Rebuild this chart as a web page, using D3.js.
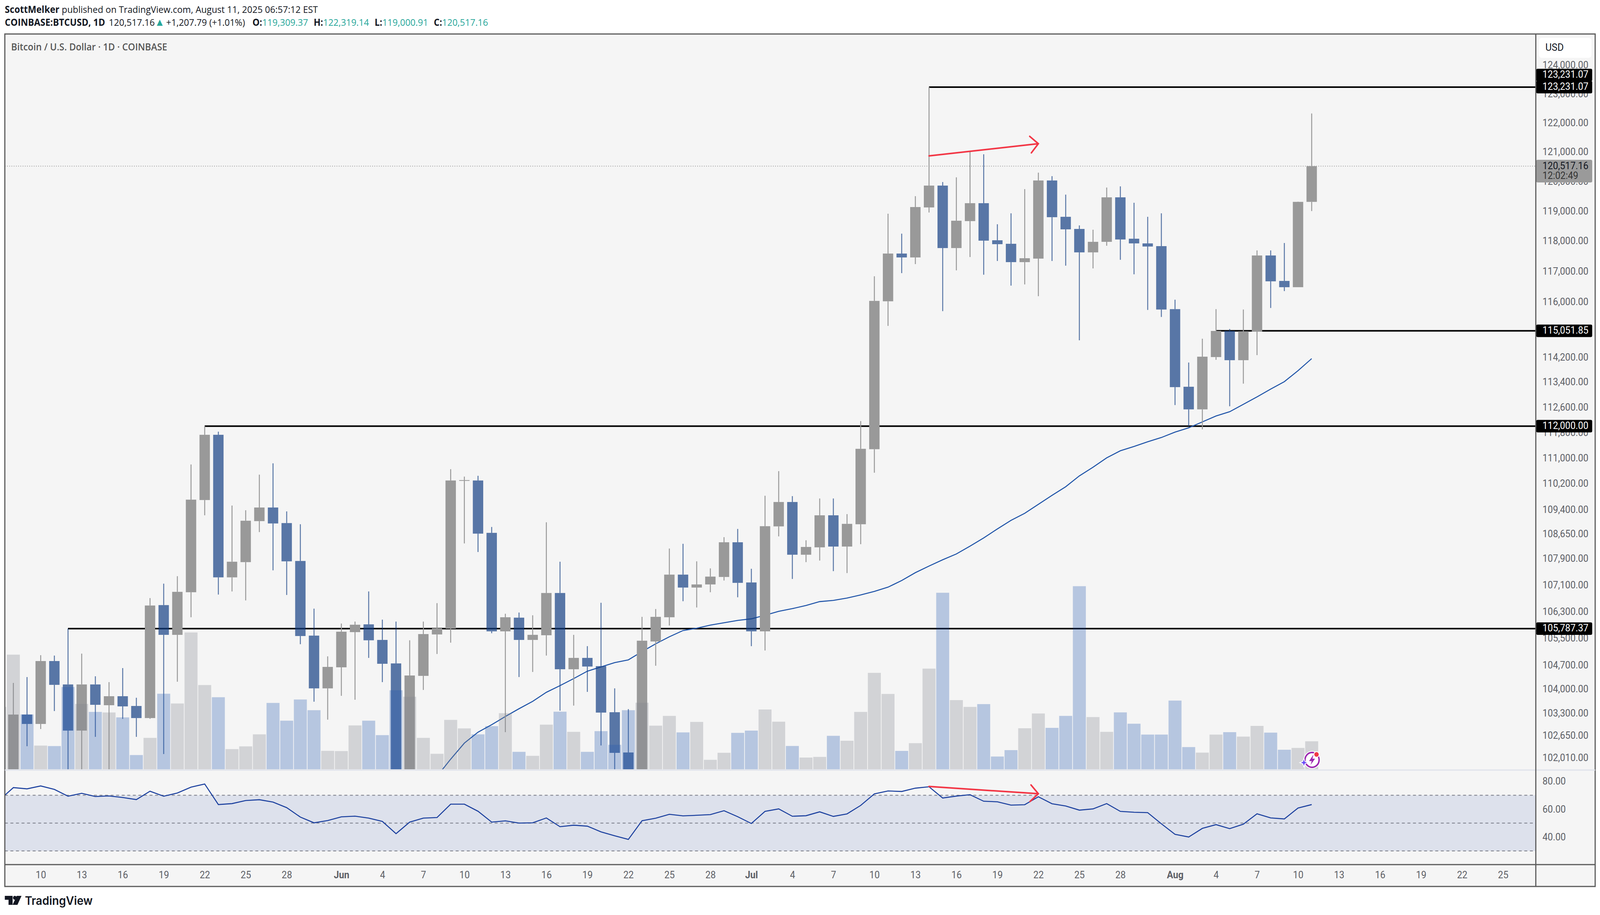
<!DOCTYPE html>
<html>
<head>
<meta charset="utf-8">
<title>BTCUSD 1D</title>
<script src="https://cdn.jsdelivr.net/npm/d3@7"></script>
<style>
    html, body { margin: 0; padding: 0; background: #fff; width: 100%; height: 100%; overflow: hidden; }
    svg { display: block; width: 100vw; height: 100vh; }
    text { font-family: Roboto, sans-serif; }
    .head { font-family: "Open Sans", sans-serif; font-size: 24.3px; fill: #131722; }
    .tick text { font-family: Roboto, sans-serif; font-size: 25px; fill: #5d5f66; }
</style>
</head>
<body>
<svg id="chart" viewBox="0 0 4312 2342" preserveAspectRatio="none"></svg>
<script>
// daily bars from May 7 to Aug 11 2025 (first one is cut off by the left edge)
const firstDay = new Date(Date.UTC(2025, 4, 7));

const opens = [96800, 99780, 103256, 102983, 104825, 104136, 102790, 104136, 103528, 103791, 103506, 103154, 106491, 105602, 106878, 109692, 111728, 107327, 107789, 109042, 109461, 108982, 107824, 105579, 104021, 104640, 105683, 105915, 105451, 104755, 101500, 104388, 105614, 105787, 110298, 110298, 108682, 105706, 106115, 105451, 105590, 106855, 104583, 104918, 104675, 103324, 102158, 100960, 105405, 106127, 107410, 107019, 107113, 107339, 108394, 107173, 105706, 108880, 109631, 108014, 108239, 109221, 108263, 108946, 111275, 116012, 117584, 117455, 119122, 119858, 117766, 118664, 119265, 118025, 117908, 117300, 117416, 120031, 118808, 118402, 117623, 117973, 119462, 118077, 117921, 117830, 115756, 113251, 112531, 114203, 115047, 114102, 115022, 117520, 116680, 116474, 119309.37];
const highs = [97700, 104181, 104354, 104999, 104987, 105787, 105045, 104376, 104204, 104617, 103746, 106702, 107137, 107362, 110797, 112000, 111826, 109522, 109377, 110480, 110833, 109341, 108946, 106385, 104964, 105939, 105998, 106902, 106056, 105998, 105440, 105998, 106550, 110650, 110419, 110444, 108862, 106232, 106268, 106186, 109006, 107801, 105602, 105266, 106561, 104021, 103415, 106139, 106373, 108203, 108347, 107813, 107599, 108550, 108802, 107587, 109825, 110589, 109813, 108455, 109740, 109740, 109257, 112160, 116833, 118912, 118245, 119501, 123231.07, 119978, 120137, 121000, 120920, 118559, 118925, 119739, 120296, 120177, 119553, 118520, 118376, 119792, 119832, 119279, 118808, 118925, 116064, 114027, 114795, 115756, 115110, 115743, 117688, 117688, 117934, 119318, 122319.14];
const lows = [95900, 99000, 102338, 102836, 103358, 100700, 101400, 102609, 101400, 103131, 102609, 103131, 102113, 104216, 106127, 109221, 106808, 106902, 106632, 108706, 107540, 106796, 105324, 103631, 103108, 103803, 103688, 104918, 104204, 100400, 101000, 103975, 105034, 105370, 108359, 108097, 105650, 102745, 104354, 104503, 104987, 103369, 103517, 103918, 102360, 100800, 98200, 99600, 104686, 105880, 106608, 106420, 106878, 107232, 106726, 105266, 105138, 108574, 107279, 107789, 107836, 107516, 107457, 108335, 110540, 115211, 116937, 117235, 118952, 115691, 117028, 117468, 116885, 117338, 116526, 116565, 116179, 117338, 117183, 114744, 117092, 117843, 117377, 116898, 115730, 115501, 112668, 112000, 111900, 114115, 112630, 113351, 114265, 115794, 116346, 116474, 119000.91];
const closes = [97030, 103256, 102983, 104825, 104124, 102790, 104136, 103540, 103791, 103494, 103154, 106479, 105602, 106890, 109704, 111728, 107327, 107801, 109054, 109461, 108970, 107813, 105567, 104021, 104652, 105695, 105904, 105440, 104744, 101000, 104399, 105625, 105799, 110298, 110310, 108658, 105706, 106127, 105451, 105602, 106855, 104583, 104918, 104663, 103313, 102147, 100960, 105428, 106139, 107410, 107019, 107113, 107350, 108394, 107161, 105706, 108886, 109631, 108014, 108251, 109221, 108263, 108958, 111287, 116025, 117584, 117455, 119135, 119858, 117766, 118677, 119265, 118012, 117895, 117300, 117429, 120031, 118795, 118389, 117623, 117973, 119462, 118051, 117921, 117817, 115743, 113239, 112531, 114215, 115047, 114102, 115034, 117520, 116667, 116474, 119309.37, 120517.16];
const volumes = [7980, 14670, 7020, 3030, 2970, 10530, 8360, 7340, 7270, 6640, 1820, 4020, 9670, 8420, 17510, 10780, 9220, 2580, 2930, 4470, 8490, 6220, 8930, 7560, 2360, 2330, 5610, 6220, 4370, 10110, 9280, 4020, 1980, 6320, 5230, 4470, 5520, 7180, 2230, 1720, 5710, 7370, 4790, 2230, 4880, 3130, 7560, 8520, 5580, 6830, 4720, 6060, 1210, 2110, 4660, 4950, 7650, 6090, 2980, 1500, 1580, 4280, 3650, 7340, 12340, 9640, 2350, 3340, 12880, 22590, 8850, 7980, 8340, 1630, 2450, 5250, 7140, 5300, 6830, 23430, 6680, 4790, 7280, 5830, 4440, 4440, 8790, 2840, 2130, 4440, 4750, 4180, 5550, 4690, 2500, 2730, 3580];
const rsiValues = [66.7, 75.5, 74.6, 76.7, 74.2, 69.3, 71.4, 69.1, 69.5, 68.4, 66.9, 72.9, 69.3, 71.6, 75.8, 78.1, 63.3, 64.0, 66.2, 66.8, 65.1, 61.1, 54.3, 50.2, 51.8, 54.5, 55.0, 53.6, 51.2, 42.4, 50.7, 53.6, 54.0, 63.6, 63.6, 58.5, 50.7, 51.6, 50.0, 50.2, 53.7, 47.4, 48.5, 47.8, 43.7, 40.9, 38.3, 51.7, 53.5, 56.3, 55.2, 55.6, 56.1, 58.9, 54.6, 49.7, 58.4, 60.2, 54.9, 55.3, 58.1, 54.8, 56.6, 62.7, 71.0, 73.1, 72.7, 75.1, 76.1, 68.0, 69.4, 70.4, 65.7, 65.3, 62.9, 63.2, 68.9, 63.9, 62.3, 59.3, 60.2, 64.0, 58.4, 57.8, 57.5, 49.5, 41.9, 40.0, 46.2, 48.9, 46.0, 49.2, 56.7, 53.7, 53.0, 60.8, 63.3];
// moving average, the first 32 days are not on the chart
const maValues = [101474, 101967, 102428, 102745, 102961, 103199, 103426, 103642, 103906, 104101, 104308, 104526, 104652, 104778, 104860, 105103, 105335, 105544, 105730, 105799, 105892, 105962, 106033, 106080, 106186, 106303, 106385, 106479, 106596, 106632, 106702, 106796, 106902, 107031, 107232, 107469, 107670, 107860, 108038, 108275, 108526, 108802, 109066, 109281, 109558, 109837, 110104, 110441, 110711, 111005, 111225, 111360, 111507, 111642, 111813, 111949, 112135, 112321, 112457, 112692, 112928, 113176, 113414, 113765, 114153];
const maOffset = 32;

const priceTicks = [124000, 123000, 122000, 121000, 120000, 119000, 118000, 117000, 116000, 114200, 113400, 112600, 111800, 111000, 110200, 109400, 108650, 107900, 107100, 106300, 105500, 104700, 104000, 103300, 102650, 102010];
const rsiTicks = [80, 60, 40];
const rsiLevels = [70, 50, 30];

const timeTicks = ['05-10', '05-13', '05-16', '05-19', '05-22', '05-25', '05-28', '06-01', '06-04', '06-07', '06-10', '06-13', '06-16', '06-19', '06-22', '06-25', '06-28', '07-01', '07-04', '07-07', '07-10', '07-13', '07-16', '07-19', '07-22', '07-25', '07-28', '08-01', '08-04', '08-07', '08-10', '08-13', '08-16', '08-19', '08-22', '08-25'];

// horizontal levels drawn on the chart: price, start day
const levelPrices = [123231.07, 115051.85, 112000, 105787.37];
const levelStarts = ['07-14', '08-04', '05-22', '05-12'];

const lastPrice = 120517.16;
const priceArrow = [['07-14', 120866], ['07-22', 121281]];
const rsiArrow = [['07-14', 76.3], ['07-22', 71.1]];

const panel = {left: 13, right: 4299, top: 87, bottom: 2269, axis: 4139, paneBottom: 1971, timeTop: 2213};

function day(mmdd) {
    return new Date(`2025-${mmdd}T00:00:00Z`);
}

const dates = opens.map(function(d, i) {
    return d3.utcDay.offset(firstDay, i);
});

const x = d3.scaleUtc()
    .domain([day('05-08'), day('08-11')])
    .range([36, 3535]);

const yPrice = d3.scaleLog()
    .domain([123231.07, 105787.37])
    .range([223, 1609]);

const yVolume = d3.scaleLinear()
    .domain([0, 23500])
    .range([1969, 1499]);

const yRsi = d3.scaleLinear()
    .domain([70, 30])
    .range([2035.5, 2178]);

const bodyWidth = 28;
const barWidth = 35;
const greyCandle = '#999999';
const blueCandle = 'rgba(21,64,132,0.7)';
const greyVolume = 'rgba(128,131,142,0.3)';
const blueVolume = 'rgba(38,88,175,0.3)';

const svg = d3.select('#chart');

svg.append('defs')
    .append('clipPath')
    .attr('id', 'pane')
    .append('rect')
    .attr('x', panel.left)
    .attr('y', panel.top)
    .attr('width', panel.axis - panel.left)
    .attr('height', 1969 - panel.top);

svg.select('defs')
    .append('clipPath')
    .attr('id', 'rsiPane')
    .append('rect')
    .attr('x', panel.left)
    .attr('y', panel.paneBottom)
    .attr('width', panel.axis - panel.left)
    .attr('height', panel.timeTop - panel.paneBottom);

// header
const line1 = svg.append('text').attr('class', 'head').attr('x', 13).attr('y', 33);
line1.append('tspan').attr('font-weight', 700).text('ScottMelker');
line1.append('tspan').text(' published on TradingView.com, August 11, 2025 06:57:12 EST');

const line2 = svg.append('text').attr('class', 'head').attr('x', 13).attr('y', 66);
line2.append('tspan').attr('font-weight', 700).text('COINBASE:BTCUSD, 1D');
line2.append('tspan').attr('dx', 10).text('120,517.16');
line2.append('tspan').attr('fill', '#26a69a').style('font-size', '27px').text('▲');
line2.append('tspan').attr('dx', 4).text('+1,207.79 (+1.01%)');
[['O:', '119,309.37', 20], ['H:', '122,319.14', 15], ['L:', '119,000.91', 15], ['C:', '120,517.16', 15]].forEach(function(part) {
    line2.append('tspan').attr('dx', part[2]).attr('font-weight', 700).text(part[0]);
    line2.append('tspan').attr('fill', '#26a69a').text(part[1]);
});

// frame
svg.append('rect')
    .attr('x', panel.left)
    .attr('y', panel.top)
    .attr('width', panel.right - panel.left)
    .attr('height', panel.bottom - panel.top)
    .attr('fill', '#f5f5f5');

svg.append('text')
    .attr('x', 30)
    .attr('y', 129)
    .attr('font-size', 24.6)
    .attr('font-weight', 600)
    .attr('fill', '#555555')
    .style('font-family', '"Open Sans", sans-serif')
    .text('Bitcoin / U.S. Dollar · 1D · COINBASE');

svg.append('rect')
    .attr('x', 4147)
    .attr('y', 97)
    .attr('width', 142)
    .attr('height', 51)
    .attr('rx', 8)
    .attr('fill', '#ffffff');

svg.append('text')
    .attr('x', 4165)
    .attr('y', 130)
    .attr('font-size', 26)
    .attr('fill', '#131722')
    .text('USD');

// rsi pane
const rsiPane = svg.append('g').attr('clip-path', 'url(#rsiPane)');

rsiPane.append('rect')
    .attr('x', panel.left)
    .attr('y', yRsi(70))
    .attr('width', panel.axis - panel.left)
    .attr('height', yRsi(30) - yRsi(70))
    .attr('fill', '#dde1ec');

rsiPane.selectAll('line.level')
    .data(rsiLevels)
    .enter()
    .append('line')
    .attr('class', 'level')
    .attr('x1', panel.left)
    .attr('x2', panel.axis)
    .attr('y1', function(d) { return yRsi(d); })
    .attr('y2', function(d) { return yRsi(d); })
    .attr('stroke', '#787b86')
    .attr('stroke-width', 2)
    .attr('stroke-dasharray', '8,7');

rsiPane.append('path')
    .datum(rsiValues)
    .attr('fill', 'none')
    .attr('stroke', '#1a3f9e')
    .attr('stroke-width', 2.6)
    .attr('d', d3.line()
        .x(function(d, i) { return x(dates[i]); })
        .y(function(d) { return yRsi(d); }));

// price pane
const pane = svg.append('g').attr('clip-path', 'url(#pane)');

pane.append('line')
    .attr('x1', panel.left)
    .attr('x2', panel.axis)
    .attr('y1', yPrice(lastPrice))
    .attr('y2', yPrice(lastPrice))
    .attr('stroke', '#9a9a9a')
    .attr('stroke-width', 2)
    .attr('stroke-dasharray', '2,4');

pane.selectAll('line.hline')
    .data(levelPrices)
    .enter()
    .append('line')
    .attr('class', 'hline')
    .attr('x1', function(d, i) { return x(day(levelStarts[i])); })
    .attr('x2', panel.axis)
    .attr('y1', function(d) { return yPrice(d); })
    .attr('y2', function(d) { return yPrice(d); })
    .attr('stroke', '#000000')
    .attr('stroke-width', 4);

pane.append('path')
    .datum(maValues)
    .attr('fill', 'none')
    .attr('stroke', '#1e53a8')
    .attr('stroke-width', 2.6)
    .attr('d', d3.line()
        .x(function(d, i) { return x(dates[i + maOffset]); })
        .y(function(d) { return yPrice(d); }));

function candleColor(i) {
    return closes[i] >= opens[i] ? greyCandle : blueCandle;
}

const candles = pane.selectAll('g.candle')
    .data(opens)
    .enter()
    .append('g')
    .attr('class', 'candle');

candles.append('line')
    .attr('x1', function(d, i) { return x(dates[i]); })
    .attr('x2', function(d, i) { return x(dates[i]); })
    .attr('y1', function(d, i) { return yPrice(highs[i]); })
    .attr('y2', function(d, i) { return yPrice(Math.max(opens[i], closes[i])); })
    .attr('stroke', function(d, i) { return candleColor(i); })
    .attr('stroke-width', 2.6);

candles.append('line')
    .attr('x1', function(d, i) { return x(dates[i]); })
    .attr('x2', function(d, i) { return x(dates[i]); })
    .attr('y1', function(d, i) { return yPrice(Math.min(opens[i], closes[i])); })
    .attr('y2', function(d, i) { return yPrice(lows[i]); })
    .attr('stroke', function(d, i) { return candleColor(i); })
    .attr('stroke-width', 2.6);

candles.append('rect')
    .attr('x', function(d, i) { return x(dates[i]) - bodyWidth / 2; })
    .attr('y', function(d, i) { return yPrice(Math.max(opens[i], closes[i])); })
    .attr('width', bodyWidth)
    .attr('height', function(d, i) {
        return Math.max(yPrice(Math.min(opens[i], closes[i])) - yPrice(Math.max(opens[i], closes[i])), 2);
    })
    .attr('fill', function(d, i) { return candleColor(i); });

pane.selectAll('rect.volume')
    .data(volumes)
    .enter()
    .append('rect')
    .attr('class', 'volume')
    .attr('x', function(d, i) { return x(dates[i]) - barWidth / 2; })
    .attr('y', function(d) { return yVolume(d); })
    .attr('width', barWidth)
    .attr('height', function(d) { return yVolume(0) - yVolume(d); })
    .attr('fill', function(d, i) { return closes[i] >= opens[i] ? greyVolume : blueVolume; });

// red arrows
function drawArrow(points, scale) {
    const x1 = x(day(points[0][0]));
    const y1 = scale(points[0][1]);
    const x2 = x(day(points[1][0]));
    const y2 = scale(points[1][1]);
    const angle = Math.atan2(y2 - y1, x2 - x1);
    const head = 30;
    const spread = Math.PI / 4;
    const path = d3.path();
    path.moveTo(x1, y1);
    path.lineTo(x2, y2);
    path.moveTo(x2 - head * Math.cos(angle - spread), y2 - head * Math.sin(angle - spread));
    path.lineTo(x2, y2);
    path.lineTo(x2 - head * Math.cos(angle + spread), y2 - head * Math.sin(angle + spread));
    svg.append('path')
        .attr('d', path.toString())
        .attr('fill', 'none')
        .attr('stroke', '#f23645')
        .attr('stroke-width', 4)
        .attr('stroke-linecap', 'round');
}

drawArrow(priceArrow, yPrice);
drawArrow(rsiArrow, yRsi);

// price and rsi axes
const priceAxis = svg.append('g')
    .attr('transform', `translate(${panel.axis},0)`)
    .call(d3.axisRight(yPrice)
        .tickValues(priceTicks)
        .tickSize(0)
        .tickPadding(18)
        .tickFormat(d3.format(',.2f')));
priceAxis.select('.domain').remove();

const rsiAxis = svg.append('g')
    .attr('transform', `translate(${panel.axis},0)`)
    .call(d3.axisRight(yRsi)
        .tickValues(rsiTicks)
        .tickSize(0)
        .tickPadding(18)
        .tickFormat(d3.format('.2f')));
rsiAxis.select('.domain').remove();

const timeAxis = svg.append('g')
    .attr('transform', `translate(0,${panel.timeTop})`)
    .call(d3.axisBottom(x)
        .tickValues(timeTicks.map(day))
        .tickSize(0)
        .tickPadding(17)
        .tickFormat(function(d) {
            return d.getUTCDate() === 1 ? d3.utcFormat('%b')(d) : d.getUTCDate();
        }));
timeAxis.select('.domain').remove();
timeAxis.selectAll('.tick text')
    .style('font-weight', function(d) { return d.getUTCDate() === 1 ? 700 : 400; });

// price tags on the axis
function drawTag(price, label, shift) {
    const mid = yPrice(price) + shift;
    svg.append('rect')
        .attr('x', panel.axis + 1)
        .attr('y', mid - 16)
        .attr('width', 151)
        .attr('height', 32)
        .attr('rx', 4)
        .attr('fill', '#000000');
    svg.append('text')
        .attr('x', panel.axis + 18)
        .attr('y', mid + 7)
        .attr('font-size', 25)
        .attr('fill', '#ffffff')
        .text(label);
}

levelPrices.forEach(function(d, i) {
    if (i === 0) {
        drawTag(d, d3.format(',.2f')(d), -31);
    }
    drawTag(d, d3.format(',.2f')(d), 0);
});

svg.append('rect')
    .attr('x', panel.axis + 1)
    .attr('y', 409)
    .attr('width', 151)
    .attr('height', 58)
    .attr('rx', 4)
    .attr('fill', '#9a9a9a');

svg.append('text')
    .attr('x', panel.axis + 18)
    .attr('y', 433)
    .attr('font-size', 25)
    .attr('fill', '#131722')
    .text(d3.format(',.2f')(lastPrice));

svg.append('text')
    .attr('x', panel.axis + 18)
    .attr('y', 458)
    .attr('font-size', 25)
    .attr('fill', '#333333')
    .text('12:02:49');

// frame lines go on top
const frameColor = '#5a5a5a';

svg.append('rect')
    .attr('x', panel.left)
    .attr('y', panel.top)
    .attr('width', panel.right - panel.left)
    .attr('height', panel.bottom - panel.top)
    .attr('fill', 'none')
    .attr('stroke', frameColor)
    .attr('stroke-width', 3);

svg.append('line')
    .attr('x1', panel.left)
    .attr('x2', panel.right)
    .attr('y1', panel.paneBottom)
    .attr('y2', panel.paneBottom)
    .attr('stroke', '#e0e3eb')
    .attr('stroke-width', 3);

svg.append('line')
    .attr('x1', panel.axis)
    .attr('x2', panel.axis)
    .attr('y1', panel.top)
    .attr('y2', panel.bottom)
    .attr('stroke', frameColor)
    .attr('stroke-width', 3);

svg.append('line')
    .attr('x1', panel.left)
    .attr('x2', panel.right)
    .attr('y1', panel.timeTop)
    .attr('y2', panel.timeTop)
    .attr('stroke', frameColor)
    .attr('stroke-width', 3);

// small bolt badge sitting on the last bar
const badge = svg.append('g').attr('transform', 'translate(3536,1945)');
badge.append('circle').attr('r', 23).attr('fill', '#ffffff');
badge.append('circle').attr('r', 19).attr('fill', 'none').attr('stroke', '#9c27b0').attr('stroke-width', 4);
badge.append('path').attr('d', 'M4,-14 L-8,3 L-1,3 L-4,13 L8,-3 L1,-3 Z').attr('fill', '#9c27b0');
badge.append('circle').attr('cx', 12).attr('cy', -14).attr('r', 8).attr('fill', '#ffffff');
badge.append('circle').attr('cx', 12).attr('cy', -14).attr('r', 6).attr('fill', '#f23645');
badge.append('path').attr('d', 'M-22,-4 L-19,4 L-11,7 L-19,10 L-22,18 L-25,10 L-33,7 L-25,4 Z').attr('fill', '#6a4cf5').attr('stroke', '#ffffff').attr('stroke-width', 2);

// logo
const logo = svg.append('g').attr('transform', 'translate(13,2293)').attr('fill', '#131722');
logo.append('path').attr('d', 'M0,0 H21 V23 H10 V10 H0 Z');
logo.append('circle').attr('cx', 27).attr('cy', 5).attr('r', 5);
logo.append('path').attr('d', 'M32,0 H45 L34,23 H21 Z');

svg.append('text')
    .attr('x', 67)
    .attr('y', 2316)
    .attr('font-size', 30)
    .attr('font-weight', 600)
    .attr('fill', '#131722')
    .style('font-family', 'Inter, sans-serif')
    .text('TradingView');
</script>
</body>
</html>
